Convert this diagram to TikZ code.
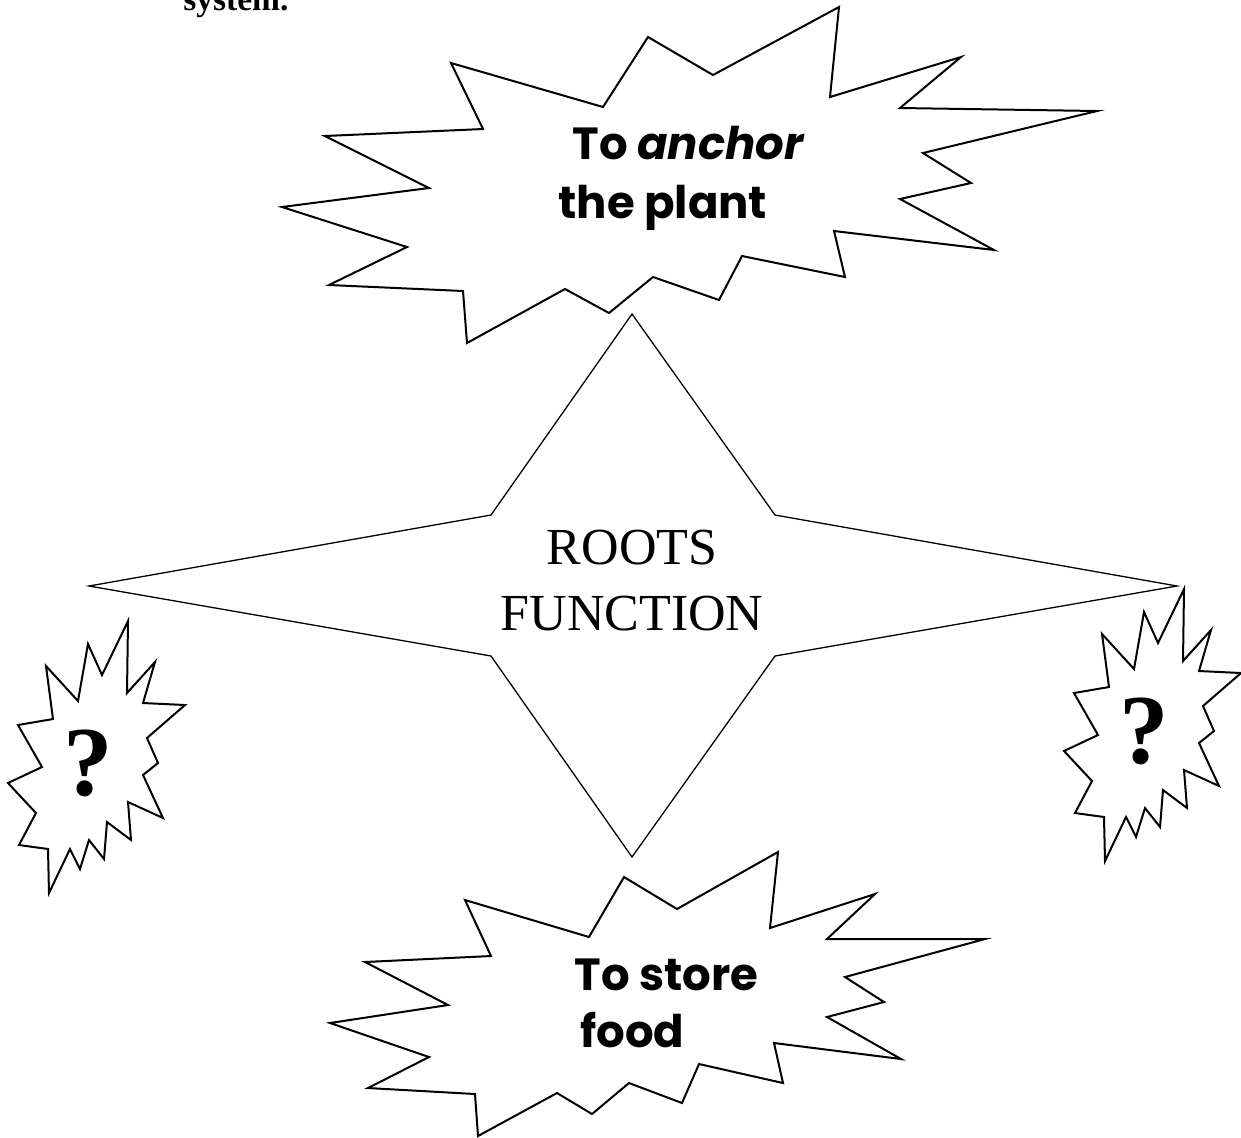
\documentclass[tikz,border=0pt]{standalone}
\usepackage{fontspec}
\setmainfont{Liberation Serif}
\newfontfamily\gothicfont{Poppins}
\tikzset{
  burst/.style={draw=black, line width=1pt, line join=miter},
  starline/.style={draw=black, line width=0.65pt},
  gothic/.style={font=\gothicfont\bfseries\fontsize{22.5}{28}\selectfont, inner sep=0pt},
  roots/.style={font=\fontsize{26}{33}\selectfont, inner sep=0pt},
  qmark/.style={font=\bfseries\fontsize{49.5}{55}\selectfont, inner sep=0pt},
  heading/.style={font=\bfseries\fontsize{16.75}{20}\selectfont, inner sep=0pt}
}
\begin{document}
\begin{tikzpicture}[x=0.5pt, y=-0.5pt]
\useasboundingbox (0,0) rectangle (1241,1137);
\clip (0,0) rectangle (1241,1137);
% end of the heading, cut off by the page top
\node[heading, anchor=base west] (heading) at (183,10) {system.};

% top burst
\draw[burst] (451,63) -- (603,107) -- (648,37) -- (713,75) -- (839,7) -- (830,97)
  -- (961,57) -- (900,108) -- (1097,111) -- (923,153) -- (971,183) -- (900,199)
  -- (994,250) -- (834,231) -- (845,277) -- (742,256) -- (719,300) -- (653,277)
  -- (609,313) -- (565,289) -- (467,343) -- (463,291) -- (329,285) -- (407,247)
  -- (282,207) -- (429,188) -- (325,136) -- (483,129) -- cycle;
\node[gothic, anchor=base west] (anchor1) at (572,159) {To \textit{anchor}};
\node[gothic, anchor=base west] (anchor2) at (558,218) {the plant};

% centre star
\draw[starline] (632,314) -- (775,515) -- (1177,586) -- (775,656) -- (632,857)
  -- (491,656) -- (89,586) -- (491,515) -- cycle;
\node[roots, anchor=base] (roots1) at (632,564) {ROOTS};
\node[roots, anchor=base] (roots2) at (632,630) {FUNCTION};

% bottom burst
\draw[burst] (465,900) -- (589,937) -- (624,877) -- (677,909) -- (778,852) -- (770,928)
  -- (875,894) -- (827,939) -- (985,939) -- (845,977) -- (884,1002) -- (827,1017)
  -- (901,1059) -- (774,1043) -- (783,1083) -- (699,1064) -- (682,1103) -- (629,1083)
  -- (592,1114) -- (557,1093) -- (478,1136) -- (475,1094) -- (368,1088) -- (429,1057)
  -- (330,1023) -- (448,1005) -- (365,962) -- (491,956) -- cycle;
\node[gothic, anchor=base west] (store1) at (574,990) {To store};
\node[gothic, anchor=base west] (store2) at (580,1047) {food};

% small bursts with question marks
\foreach \dx/\dy/\nm in {0/0/qleft, 1056/-32/qright}{
  \begin{scope}[shift={(\dx,\dy)}]
    \draw[burst] (128,621) -- (127,693) -- (155,662) -- (143,703) -- (185,705) -- (147,738)
      -- (158,763) -- (143,775) -- (163,818) -- (128,802) -- (131,840) -- (107,822)
      -- (104,859) -- (89,840) -- (80,869) -- (70,849) -- (49,893) -- (48,849)
      -- (19,845) -- (36,813) -- (8,783) -- (42,767) -- (18,725) -- (53,719)
      -- (46,666) -- (78,701) -- (88,644) -- (102,675) -- cycle;
    \node[qmark, anchor=base] (\nm) at (88,795) {?};
  \end{scope}
}
\end{tikzpicture}
\end{document}
